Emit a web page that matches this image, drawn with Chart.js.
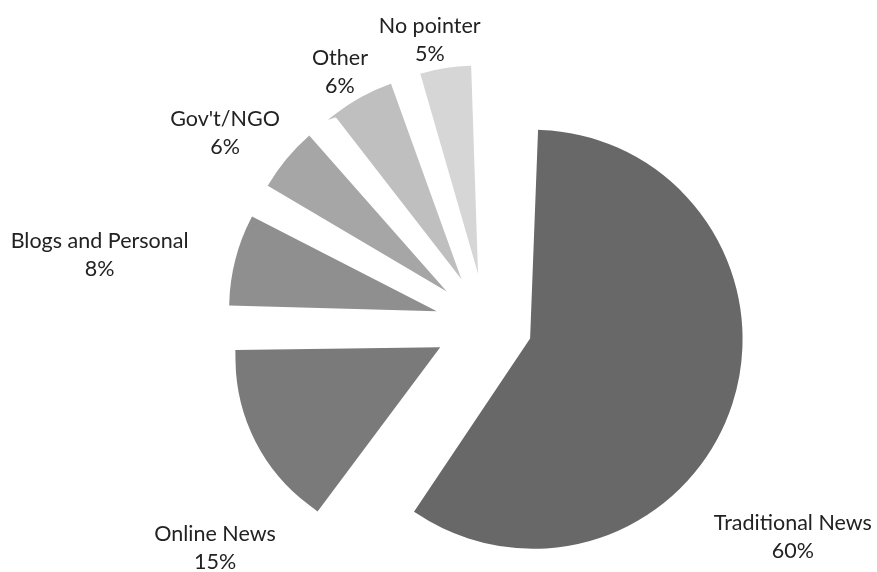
<!DOCTYPE html>
<html lang="en">
<head>
  <meta charset="UTF-8">
  <title>Pointer sources</title>
  <style>
    body{margin:0;background:#fff}
    #wrap{width:877px;height:572px}
  </style>
  <script src="https://cdn.jsdelivr.net/npm/chart.js"></script>
</head>
<body>
  <div id="wrap"><canvas id="pieChart"></canvas></div>
  <script>
    const labels = ['Traditional News', 'Online News', 'Blogs and Personal', "Gov't/NGO", 'Other', 'No pointer'];
    const shares = [60, 15, 8, 6, 6, 5];

    const colors = ['#686868', '#7a7a7a', '#8f8f8f', '#a6a6a6', '#bfbfbf', '#d6d6d6'];
    // exploded look: offset pushes a slice out by offset/4, a border in its own colour
    // puts back the radius chart.js takes off small slices
    const explode = [198, 305, 260, 246, 246, 239];
    const fatten  = [6, 22, 6.3, 3.3, 3.3, 2.2];
    // label spot: turn (deg) off the slice middle, distance in pie radii
    const labelTurn = [16.8, -12.6, -4.3, -3.4, -1.3, -2.2];
    const labelDist = [2.38, 2.24, 2.50, 2.06, 1.855, 1.844];

    const sliceLabels = {
      id: 'sliceLabels',
      afterDatasetsDraw(chart) {
        const ctx = chart.ctx;
        const arcs = chart.getDatasetMeta(0).data;
        const total = shares.reduce((a, b) => a + b, 0);
        ctx.save();
        ctx.font = '21.5px Lato';
        ctx.fillStyle = '#222';
        ctx.textAlign = 'center';
        ctx.textBaseline = 'middle';
        arcs.forEach((arc, i) => {
          const a = (arc.startAngle + arc.endAngle) / 2 + labelTurn[i] * Math.PI / 180;
          const d = labelDist[i] * arc.outerRadius;
          const x = arc.x + Math.cos(a) * d;
          const y = arc.y + Math.sin(a) * d;
          ctx.fillText(labels[i], x, y - 14);
          ctx.fillText(Math.round(shares[i] / total * 100) + '%', x, y + 14);
        });
        ctx.restore();
      }
    };

    new Chart(document.getElementById('pieChart'), {
      type: 'pie',
      data: {
        labels,
        datasets: [{
          data: shares,
          backgroundColor: colors,
          borderColor: colors,
          borderWidth: fatten,
          borderJoinStyle: 'miter',
          offset: explode,
          radius: 157,
          clip: false
        }]
      },
      plugins: [sliceLabels],
      options: {
        animation: false,
        events: [],
        responsive: true,
        maintainAspectRatio: false,
        layout: { padding: { left: 95, top: 76 } },
        plugins: { legend: { display: false }, tooltip: { enabled: false } }
      }
    });
  </script>
</body>
</html>
